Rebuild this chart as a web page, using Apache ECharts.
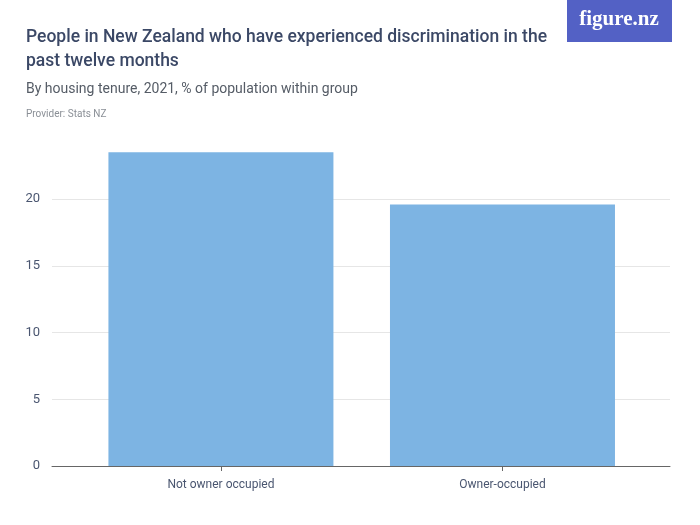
<!DOCTYPE html>
<html><head><meta charset="utf-8">
<script src="https://cdn.jsdelivr.net/npm/echarts@6/dist/echarts.min.js"></script>
<style>html,body{margin:0;padding:0;background:#fff}#c{width:700px;height:525px}</style>
</head><body><div id="c"></div>
<script>
const categories = ["Not owner occupied", "Owner-occupied"];
const values = [23.5, 19.6];
const yTicks = [0, 5, 10, 15, 20];

const chart = echarts.init(document.getElementById('c'), null, {renderer: 'canvas'});
const font = 'Roboto, "Liberation Sans", sans-serif';
chart.setOption({
  animation: false,
  title: [
    {text: 'People in New Zealand who have experienced discrimination in the\npast twelve months',
     left: 21, top: 21, padding: 5,
     textStyle: {fontFamily: font, fontSize: 17.5, fontWeight: 500, color: '#3b4866', lineHeight: 24}},
    {text: 'By housing tenure, 2021, % of population within group',
     left: 21, top: 77,
     textStyle: {fontFamily: font, fontSize: 14, fontWeight: 'normal', color: '#555c66'}},
    {text: 'Provider: Stats NZ',
     left: 21, top: 104,
     textStyle: {fontFamily: font, fontSize: 10, fontWeight: 'normal', color: '#8a8f96'}}
  ],
  graphic: [
    {type: 'rect', shape: {x: 567, y: 0, width: 105, height: 42}, style: {fill: '#5361c5'}},
    {type: 'text', x: 619, y: 20, style: {text: 'figure.nz', fill: '#fff', font: 'bold 21px "Liberation Serif", serif', align: 'center', verticalAlign: 'middle'}}
  ],
  grid: {left: 52, right: 30, top: 139, bottom: 59},
  xAxis: {
    type: 'value', min: -0.6, max: 1.595,
    splitLine: {show: false},
    axisLine: {show: true, lineStyle: {color: '#666', width: 1}},
    axisTick: {show: true, customValues: [0, 1], length: 5, lineStyle: {color: '#666'}},
    axisLabel: {customValues: [0, 1], formatter: v => categories[Math.round(v)],
      fontFamily: font, fontSize: 12, color: '#4a5670', margin: 13}
  },
  yAxis: {
    type: 'value', min: 0, max: 24.5, interval: 5,
    axisLine: {show: false},
    axisTick: {show: false, customValues: yTicks},
    splitLine: {customValues: yTicks, lineStyle: {color: '#e6e6e6', width: 1}},
    axisLabel: {customValues: yTicks, fontFamily: font, fontSize: 13, color: '#4a5670', margin: 12}
  },
  series: [{
    type: 'bar',
    data: values.map((v, i) => [i, v]),
    barWidth: 225,
    itemStyle: {color: '#7db4e3'}
  }]
});
</script></body></html>
